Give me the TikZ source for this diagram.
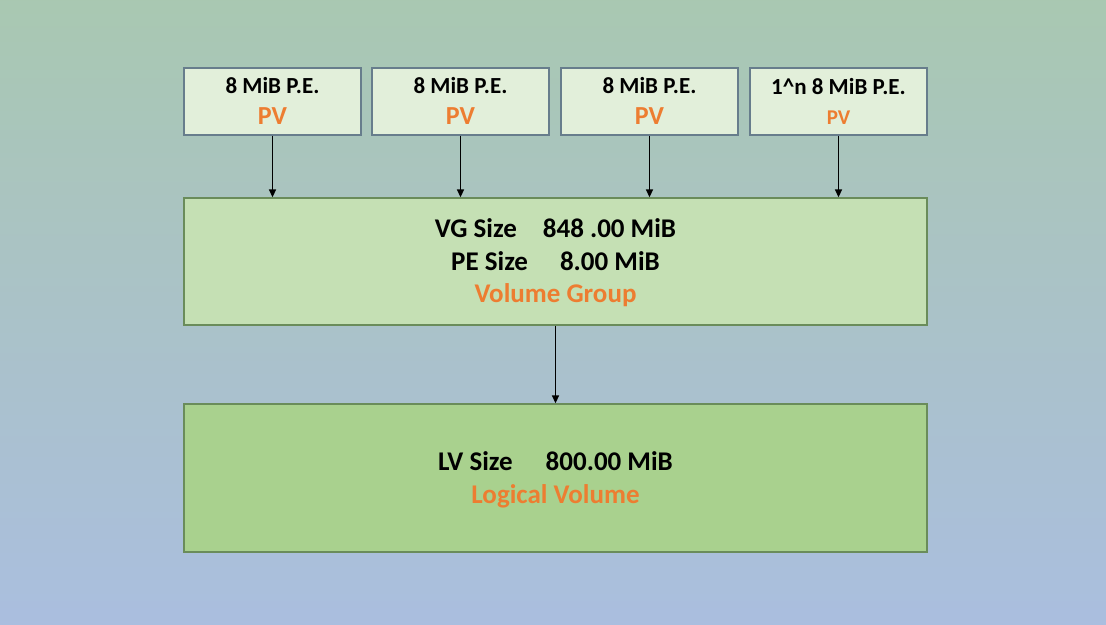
\documentclass[tikz,border=0pt]{standalone}
\usepackage{fontspec}
\setmainfont{Carlito}
\usetikzlibrary{arrows.meta}
\definecolor{ctop}{HTML}{A8CE9B}
\definecolor{cmid}{HTML}{AAC2C8}
\definecolor{cblue}{HTML}{AABDE6}
\definecolor{cbot}{HTML}{B4C7E8}
\definecolor{pvfill}{HTML}{E2EFDA}
\definecolor{pvline}{HTML}{677D8C}
\definecolor{vgfill}{HTML}{C5E0B4}
\definecolor{lvfill}{HTML}{A9D18E}
\definecolor{gline}{HTML}{6A8C5A}
\definecolor{orng}{HTML}{ED7D31}
\pgfdeclareverticalshading{bgshade}{100bp}{color(0bp)=(cbot); color(17bp)=(cblue); color(50bp)=(cmid); color(100bp)=(ctop)}
\begin{document}
\begin{tikzpicture}[x=1pt,y=-1pt,
  pvbox/.style={draw=pvline, fill=pvfill, line width=1.3pt, minimum width=177pt, minimum height=67pt, inner sep=0pt},
  bigbox/.style={draw=gline, line width=1.3pt, minimum width=743pt, inner sep=0pt},
  pvtop/.style={anchor=base, inner sep=0pt, font=\fontsize{23}{27}\selectfont\bfseries},
  pvlab/.style={anchor=base, inner sep=0pt, text=orng, font=\fontsize{26}{30}\selectfont\bfseries},
  bigtxt/.style={anchor=base, inner sep=0pt, font=\fontsize{27}{32}\selectfont\bfseries},
  biglab/.style={anchor=base, inner sep=0pt, text=orng, font=\fontsize{27}{32}\selectfont\bfseries},
  arr/.style={-{Triangle[length=8pt,width=7pt]}, line width=1.5pt, black}]
\shade[shading=bgshade] (0,0) rectangle (1106,624);
\useasboundingbox (0,0) rectangle (1106,624);
\node[pvbox] (pv1) at (272.5,101.5) {};
\node[pvbox] (pv2) at (460.5,101.5) {};
\node[pvbox] (pv3) at (649.5,101.5) {};
\node[pvbox] (pv4) at (838.5,101.5) {};
\node[pvtop] (pv1a) at (272.5,93.3) {8 MiB P.E.};
\node[pvlab] (pv1b) at (272.5,124) {PV};
\node[pvtop] (pv2a) at (460.5,93.3) {8 MiB P.E.};
\node[pvlab] (pv2b) at (460.5,124) {PV};
\node[pvtop] (pv3a) at (649.5,93.3) {8 MiB P.E.};
\node[pvlab] (pv3b) at (649.5,124) {PV};
\node[pvtop] (pv4a) at (838.5,94.5) {1\^{}n 8 MiB P.E.};
\node[pvlab, font=\fontsize{21}{25}\selectfont\bfseries] (pv4b) at (838.5,124) {PV};
\node[bigbox, fill=vgfill, minimum height=127pt] (vg) at (555.5,261.5) {};
\node[bigbox, fill=lvfill, minimum height=148pt] (lv) at (555.5,478) {};
\node[bigtxt] (vg1) at (555.5,237.5) {VG Size\hspace{26pt}848 .00 MiB};
\node[bigtxt] (vg2) at (555.5,270.5) {PE Size\hspace{32pt}8.00 MiB};
\node[biglab] (vg3) at (555.5,302.5) {Volume Group};
\node[bigtxt] (lv1) at (555.5,470.5) {LV Size\hspace{33pt}800.00 MiB};
\node[biglab] (lv2) at (555.5,503.5) {Logical Volume};
\draw[arr] (pv1.south) -- (pv1.south |- vg.north);
\draw[arr] (pv2.south) -- (pv2.south |- vg.north);
\draw[arr] (pv3.south) -- (pv3.south |- vg.north);
\draw[arr] (pv4.south) -- (pv4.south |- vg.north);
\draw[arr] (vg.south) -- (lv.north);
\end{tikzpicture}
\end{document}
